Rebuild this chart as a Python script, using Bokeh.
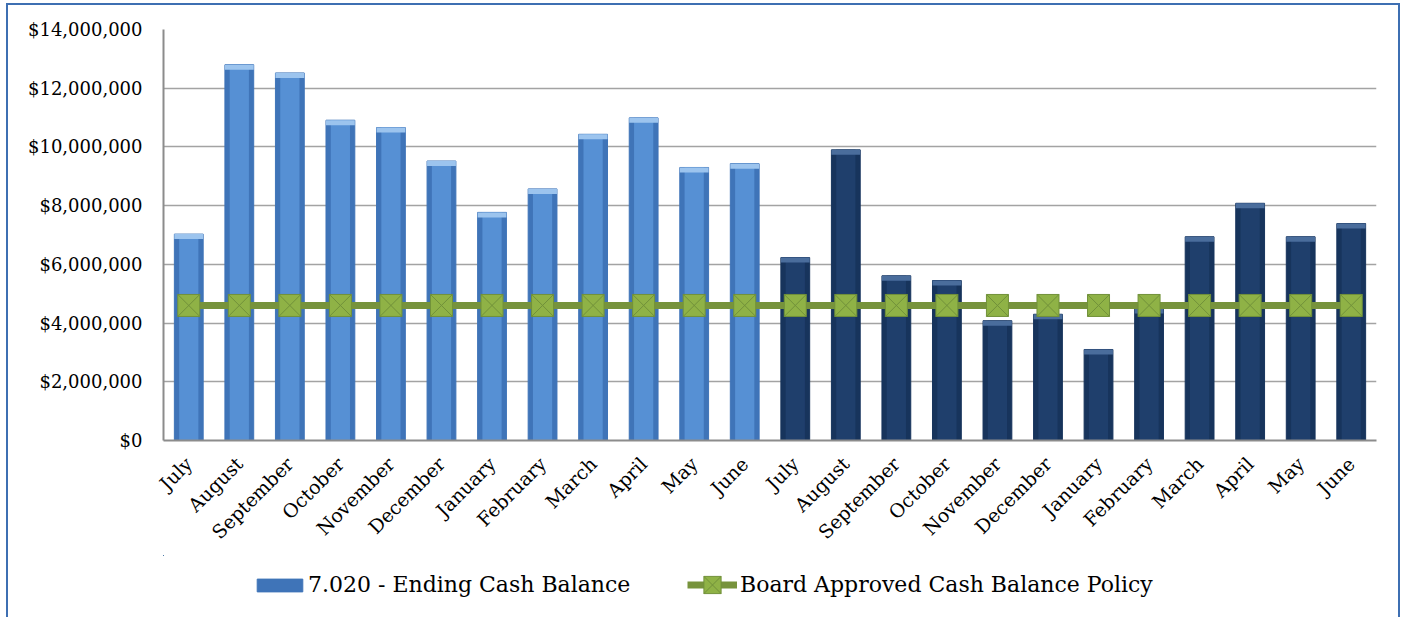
import math
from bokeh.plotting import figure
from bokeh.layouts import column
from bokeh.models import (ColumnDataSource, FixedTicker, NumeralTickFormatter,
                          Legend, LegendItem, Range1d)
from bokeh.embed import file_html
from bokeh.resources import INLINE

# ---------------- data ----------------
months = ["July", "August", "September", "October", "November", "December",
          "January", "February", "March", "April", "May", "June",
          "July", "August", "September", "October", "November", "December",
          "January", "February", "March", "April", "May", "June"]
period = ["prior"] * 12 + ["current"] * 12
ending_cash_balance = [7030000, 12800000, 12520000, 10910000, 10660000, 9520000,
                       7770000, 8570000, 10430000, 10990000, 9300000, 9430000,
                       6230000, 9900000, 5610000, 5450000, 4080000, 4300000,
                       3100000, 4500000, 6940000, 8080000, 6940000, 7390000]
board_policy = [4600000, 4600000, 4600000, 4600000, 4600000, 4600000,
                4600000, 4600000, 4600000, 4600000, 4600000, 4600000,
                4600000, 4600000, 4600000, 4600000, 4600000, 4600000,
                4600000, 4600000, 4600000, 4600000, 4600000, 4600000]
y_ticks = [0, 2000000, 4000000, 6000000, 8000000, 10000000, 12000000, 14000000]
bar_label = "7.020 - Ending Cash Balance"
line_label = "Board Approved Cash Balance Policy"

# ---------------- styles ----------------
edge_col = {"prior": "#3f74b8", "current": "#17345c"}
mid_col = {"prior": "#5690d4", "current": "#1f3f6c"}
cap_col = {"prior": "#9cc4ee", "current": "#4a6d9c"}
FONT = "DejaVu Serif"
LINE_COL = "#77933c"
MARK_FILL = "#8fb246"
MARK_LINE = "#71913a"

xpos = list(range(len(months)))
src = ColumnDataSource(dict(
    x=xpos,
    top=ending_cash_balance,
    cap_bottom=[v - 170000 for v in ending_cash_balance],
    policy=board_policy,
    edge=[edge_col[p] for p in period],
    mid=[mid_col[p] for p in period],
    cap=[cap_col[p] for p in period],
))


def draw_series(fig):
    b = fig.vbar(x="x", top="top", bottom=0, width=0.57, source=src,
                 fill_color="edge", line_color="edge", line_width=1)
    fig.vbar(x="x", top="top", bottom=0, width=0.38, source=src,
             fill_color="mid", line_color=None)
    fig.vbar(x="x", top="top", bottom="cap_bottom", width=0.57, source=src,
             fill_color="cap", line_color=None)
    ln = fig.line(x="x", y="policy", source=src, line_color=LINE_COL, line_width=7)
    mk = fig.scatter(x="x", y="policy", source=src, marker="square_x", size=22,
                     fill_color=MARK_FILL, line_color=MARK_LINE, line_width=1)
    return b, ln, mk


# ---------------- main chart ----------------
p = figure(width=1390, height=550,
           x_range=Range1d(-0.5, len(months) - 0.5),
           y_range=Range1d(0, 14000000),
           output_backend="svg", toolbar_location=None,
           min_border_left=155, min_border_right=22,
           min_border_top=24, min_border_bottom=115)
p.outline_line_color = None
p.background_fill_color = "white"
p.border_fill_color = "white"
draw_series(p)

p.xaxis.ticker = FixedTicker(ticks=xpos)
p.xaxis.major_label_overrides = {i: m for i, m in enumerate(months)}
p.xaxis.major_label_orientation = math.pi / 4
p.xaxis.major_label_text_font = FONT
p.xaxis.major_label_text_font_size = "19px"
p.xaxis.major_label_text_color = "black"
p.xaxis.major_label_standoff = 14
p.yaxis.ticker = FixedTicker(ticks=y_ticks)
p.yaxis.formatter = NumeralTickFormatter(format="$0,0")
p.yaxis.major_label_text_font = FONT
p.yaxis.major_label_text_font_size = "18px"
p.yaxis.major_label_text_color = "black"
p.yaxis.major_label_standoff = 15
for ax in (p.xaxis, p.yaxis):
    ax.axis_line_color = "#8c8c8c"
    ax.axis_line_width = 2
    ax.major_tick_line_color = None
    ax.minor_tick_line_color = None
p.xgrid.visible = False
p.ygrid.grid_line_color = "#a3a3a3"
p.ygrid.grid_line_width = 1.5

# ---------------- legend strip ----------------
# same series drawn with ranges that keep them out of view; only the legend shows
lg = figure(width=1390, height=62,
            x_range=Range1d(1000, 1001), y_range=Range1d(-2, -1),
            output_backend="svg", toolbar_location=None,
            x_axis_location=None, y_axis_location=None,
            min_border_left=0, min_border_right=0,
            min_border_top=0, min_border_bottom=0)
lg.outline_line_color = None
lg.grid.visible = False
lg.background_fill_color = "white"
lg.border_fill_color = "white"
lb, lln, lmk = draw_series(lg)

leg1 = Legend(items=[LegendItem(label=bar_label, renderers=[lb])],
              location=(88, 20), orientation="horizontal",
              glyph_width=57, glyph_height=16, label_standoff=-3,
              label_text_font=FONT, label_text_font_size="22px",
              label_text_color="black",
              border_line_color=None, background_fill_alpha=0,
              padding=0, margin=0)
leg2 = Legend(items=[LegendItem(label=line_label, renderers=[lln, lmk])],
              location=(524, 11), orientation="horizontal",
              glyph_width=50, glyph_height=43, label_standoff=3,
              label_text_font=FONT, label_text_font_size="22px",
              label_text_color="black",
              border_line_color=None, background_fill_alpha=0,
              padding=0, margin=0)
lg.add_layout(leg1, "center")
lg.add_layout(leg2, "center")

layout = column(p, lg, spacing=0)
layout.styles = {"border-top": "2px solid #3e6fb2",
                 "border-left": "2px solid #3e6fb2",
                 "border-right": "2px solid #3e6fb2",
                 "margin-left": "6px", "margin-top": "3px"}

open("out.html", "w").write(file_html(layout, INLINE))
